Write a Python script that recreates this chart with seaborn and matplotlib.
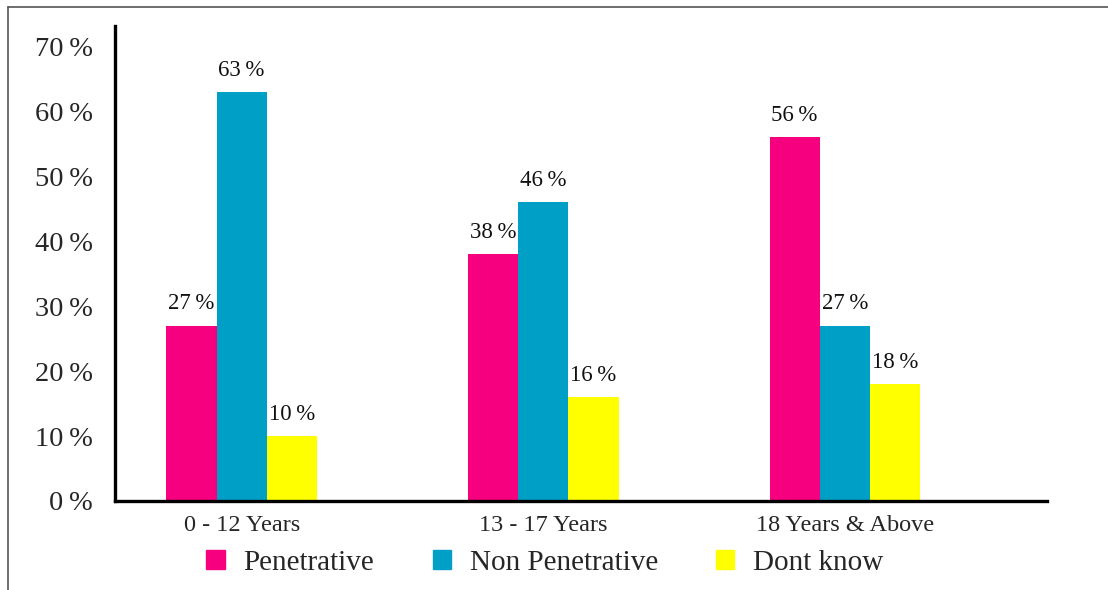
import matplotlib
matplotlib.use("Agg")
import matplotlib.pyplot as plt
from matplotlib.lines import Line2D
import pandas as pd
import seaborn as sns

# Age groups and share of cases by abuse type (percent)
age_groups = ["0 - 12 Years", "13 - 17 Years", "18 Years & Above"]
abuse_types = ["Penetrative", "Non Penetrative", "Dont know"]
penetrative = [27, 38, 56]
non_penetrative = [63, 46, 27]
dont_know = [10, 16, 18]
y_ticks = [0, 10, 20, 30, 40, 50, 60, 70]

colors = ["#F7007F", "#00A0C6", "#FFFF00"]

df = pd.DataFrame({
    "age": age_groups * 3,
    "type": [t for t in abuse_types for _ in age_groups],
    "pct": penetrative + non_penetrative + dont_know,
})

sns.set_theme(style="white")
plt.rcParams["font.family"] = ["Liberation Serif", "DejaVu Serif"]

THIN = "\u2009"

fig = plt.figure(figsize=(11.08, 5.90), dpi=100)
ax = fig.add_axes([115 / 1108, 1 - 501 / 590, (1047 - 115) / 1108, (501 - 26) / 590])

sns.barplot(data=df, x="age", y="pct", hue="type", hue_order=abuse_types,
            palette=colors, width=0.5, saturation=1, edgecolor="none",
            linewidth=0, ax=ax, legend=False)

for cont in ax.containers:
    ax.bar_label(cont, labels=[f"{v:g}{THIN}%" for v in cont.datavalues],
                 padding=8, fontsize=16.5, color="#111111")

ax.set_xlim(-0.42, 2.67)
ax.set_ylim(0, 73.1)
ax.set_yticks(y_ticks)
ax.set_yticklabels([f"{v}{THIN}%" for v in y_ticks], fontsize=20.5)
ax.tick_params(axis="y", length=0, pad=16)
ax.tick_params(axis="x", length=0, pad=10, labelsize=17.5)
ax.set_xlabel("")
ax.set_ylabel("")
for side in ("top", "right"):
    ax.spines[side].set_visible(False)
for side in ("left", "bottom"):
    ax.spines[side].set_color("black")
    ax.spines[side].set_linewidth(2.4)

handles = [plt.Rectangle((0, 0), 1, 1, color=c) for c in colors]
fig.legend(handles, abuse_types, loc="center", ncol=3,
           bbox_to_anchor=(545 / 1108, 1 - 563 / 590), frameon=False,
           fontsize=21, handlelength=0.62, handleheight=0.62,
           handletextpad=0.65, columnspacing=2.0)

# outer frame (top and left edges)
fig.add_artist(Line2D([8 / 1108, 1.0], [1 - 7 / 590, 1 - 7 / 590],
                      transform=fig.transFigure, color="#555555", linewidth=1.2))
fig.add_artist(Line2D([8 / 1108, 8 / 1108], [0.0, 1 - 7 / 590],
                      transform=fig.transFigure, color="#555555", linewidth=1.2))

fig.savefig("out.png", dpi=100)
